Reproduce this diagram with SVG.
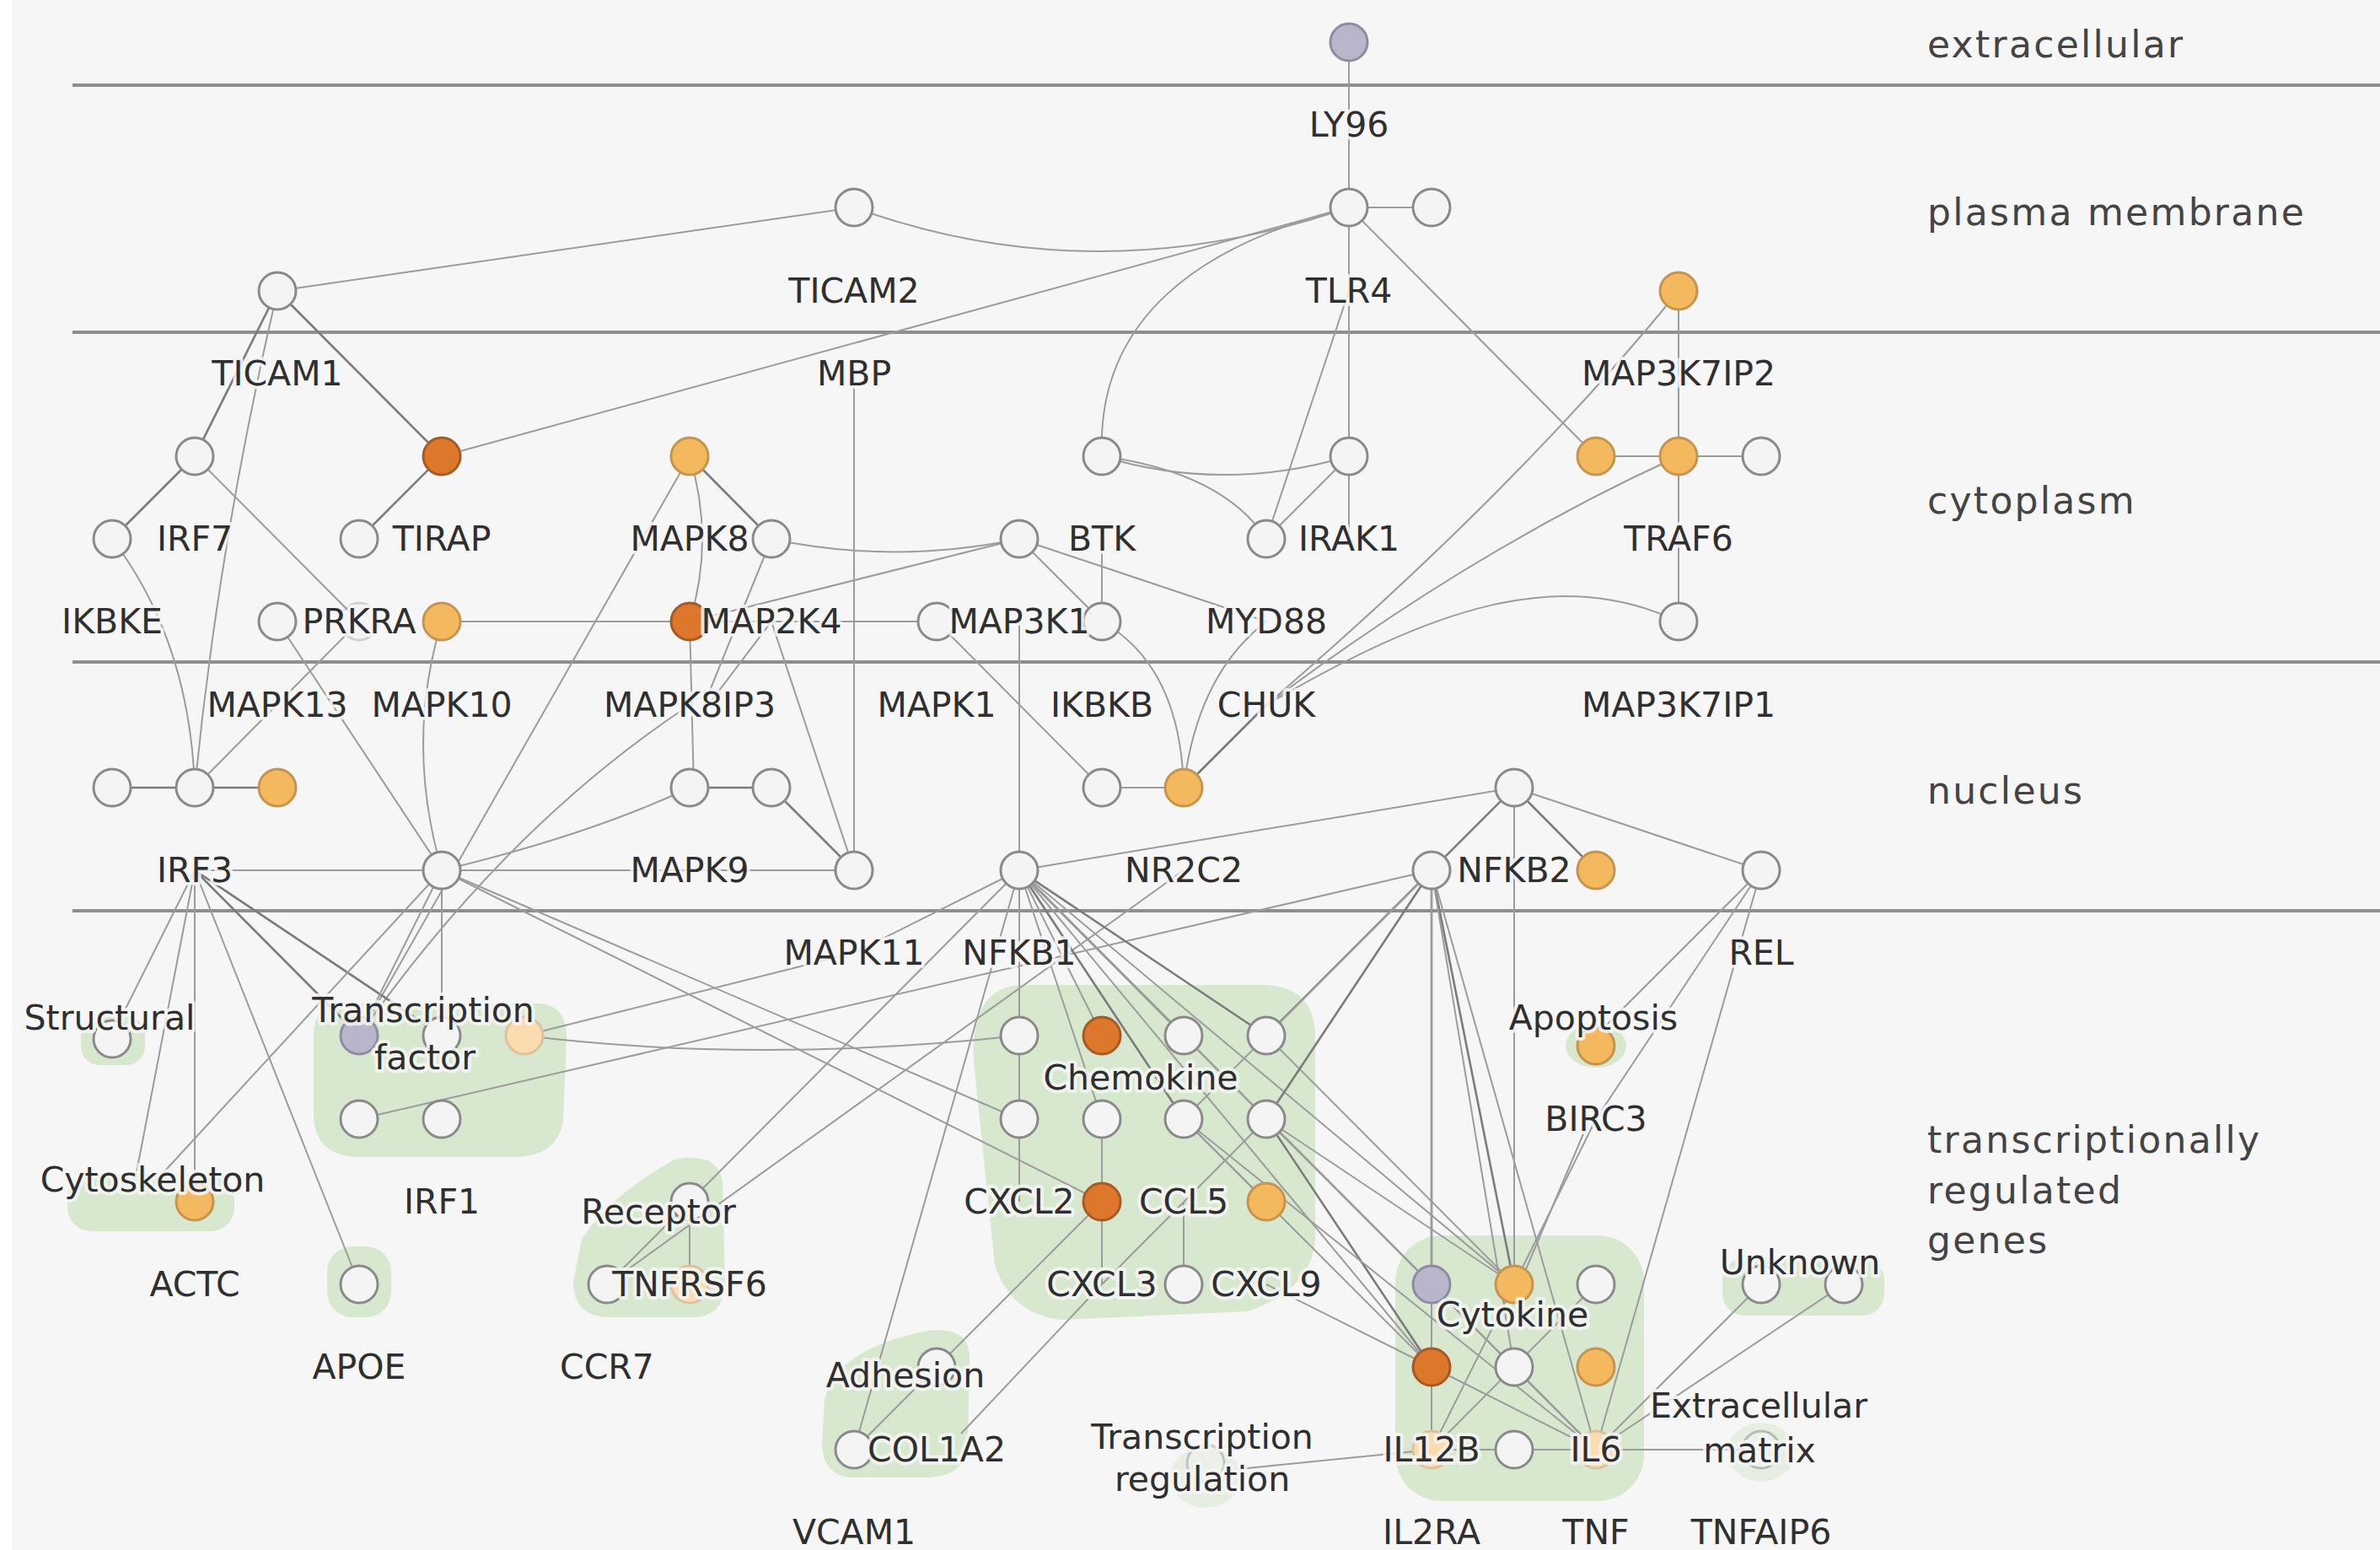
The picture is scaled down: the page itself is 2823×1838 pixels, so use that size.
<svg xmlns="http://www.w3.org/2000/svg" width="2823" height="1838" viewBox="0 0 2823 1838">
<style>
.bg{fill:#f6f6f6}
.sep{stroke:#8e8e8e;stroke-width:4}
.blob{fill:#d8e8cf}
.faint{fill:#d8e8cf;opacity:.55}
.e{stroke:#9c9c9c;stroke-width:2;fill:none}
.d{stroke:#7c7c7c;stroke-width:2.6;fill:none}
circle{stroke-width:3}
.n{fill:#f4f4f4;stroke:#8a8a8a}
.lo{fill:#f4b85f;stroke:#c5944f}
.do{fill:#dc772b;stroke:#a65a26}
.lv{fill:#b9b6cb;stroke:#8e8ba3}
.po{fill:#fadcb0;stroke:#dcc3a0}
.lbl{font-family:"DejaVu Sans","Liberation Sans",sans-serif;font-size:41px;fill:#2f2f2f;text-anchor:middle;stroke:#f6f6f6;stroke-width:8;stroke-opacity:.85;paint-order:stroke;stroke-linejoin:round}
.comp{font-family:"DejaVu Sans","Liberation Sans",sans-serif;font-size:44px;fill:#444;letter-spacing:2.3px}
</style>
<rect class="bg" x="0" y="0" width="2823" height="1838"/>
<rect x="0" y="0" width="14" height="1838" fill="#ffffff"/>

<g id="groups">
<rect class="blob" x="96" y="1205" width="76" height="58" rx="22"/>
<path class="blob" d="M400,1190 L640,1190 Q672,1192 672,1230 L668,1330 Q660,1372 610,1372 L420,1372 Q372,1368 372,1320 L372,1225 Q375,1190 400,1190 Z"/>
<rect class="blob" x="80" y="1392" width="198" height="68" rx="28"/>
<rect class="blob" x="388" y="1478" width="76" height="84" rx="30"/>
<path class="blob" d="M800,1375 Q850,1365 857,1400 L860,1520 Q860,1562 820,1562 L720,1562 Q680,1560 680,1520 L690,1470 Q720,1420 800,1375 Z"/>
<path class="blob" d="M1210,1168 L1500,1168 Q1560,1170 1560,1230 L1560,1470 Q1555,1530 1480,1555 L1260,1565 Q1200,1560 1180,1500 L1155,1260 Q1150,1172 1210,1168 Z"/>
<path class="blob" d="M1100,1578 Q1150,1572 1150,1610 L1148,1710 Q1145,1752 1100,1752 L1010,1752 Q975,1750 975,1710 L978,1660 Q990,1600 1100,1578 Z"/>
<rect class="blob" x="1655" y="1465" width="295" height="315" rx="55"/>
<ellipse class="blob" cx="1893" cy="1240" rx="36" ry="26"/>
<rect class="blob" x="2043" y="1492" width="192" height="68" rx="26"/>
<ellipse class="faint" cx="2089" cy="1722" rx="40" ry="35"/>
<ellipse class="faint" cx="1430" cy="1752" rx="42" ry="36"/>
</g>

<g id="compartments">
<line class="sep" x1="86" y1="101" x2="2823" y2="101"/>
<line class="sep" x1="86" y1="394" x2="2823" y2="394"/>
<line class="sep" x1="86" y1="785" x2="2823" y2="785"/>
<line class="sep" x1="86" y1="1080" x2="2823" y2="1080"/>
<text class="comp" x="2286" y="68">extracellular</text>
<text class="comp" x="2286" y="267">plasma membrane</text>
<text class="comp" x="2286" y="609">cytoplasm</text>
<text class="comp" x="2286" y="953">nucleus</text>
<text class="comp" x="2286" y="1367">transcriptionally</text>
<text class="comp" x="2286" y="1427">regulated</text>
<text class="comp" x="2286" y="1486">genes</text>
</g>

<g id="connectors">
<path class="e" d="M1600 50 L1600 246"/>
<path class="e" d="M1600 246 L1698 246"/>
<path class="e" d="M329 345 L1013 246"/>
<path class="e" d="M1013 246 Q1300 350 1600 246"/>
<path class="e" d="M1600 246 L524 541"/>
<path class="e" d="M1600 246 C1420 290 1300 380 1307 541"/>
<path class="e" d="M1600 246 L1600 541"/>
<path class="e" d="M1600 345 L1502 639"/>
<path class="e" d="M1600 541 L1502 639"/>
<path class="e" d="M1600 541 L1600 639"/>
<path class="e" d="M1307 541 Q1450 585 1600 541"/>
<path class="e" d="M1307 541 Q1450 560 1502 639"/>
<path class="e" d="M1600 246 L1893 541"/>
<path class="e" d="M1893 541 L2089 541"/>
<path class="e" d="M1991 345 L1991 737"/>
<path class="e" d="M1991 345 Q1800 580 1502 836"/>
<path class="e" d="M1991 541 Q1750 650 1502 836"/>
<path class="e" d="M1991 737 C1850 670 1700 720 1502 836"/>
<path class="d" d="M1502 836 L1404 934"/>
<path class="e" d="M1307 934 L1404 934"/>
<path class="e" d="M1307 737 Q1400 790 1404 934"/>
<path class="e" d="M1502 737 Q1420 800 1404 934"/>
<path class="e" d="M1111 737 L1307 934"/>
<path class="e" d="M1209 737 L1209 1032"/>
<path class="e" d="M1013 443 L1013 1032"/>
<path class="e" d="M915 737 L1013 1032"/>
<path class="d" d="M915 934 L1013 1032"/>
<path class="d" d="M818 934 L915 934"/>
<path class="e" d="M818 737 L823 934"/>
<path class="e" d="M818 541 Q848 640 818 737"/>
<path class="d" d="M818 541 L915 639"/>
<path class="e" d="M818 541 L426 1228"/>
<path class="e" d="M915 639 L835 836"/>
<path class="e" d="M915 737 L840 836"/>
<path class="e" d="M915 639 Q1060 670 1209 639"/>
<path class="e" d="M818 737 L1209 639"/>
<path class="e" d="M818 737 L1111 737"/>
<path class="e" d="M524 737 L818 737"/>
<path class="e" d="M1209 639 L1307 737"/>
<path class="e" d="M1209 639 L1502 737"/>
<path class="e" d="M1307 639 L1307 737"/>
<path class="d" d="M329 345 L231 541"/>
<path class="d" d="M329 345 L524 541"/>
<path class="e" d="M329 345 Q260 640 231 934"/>
<path class="d" d="M231 541 L133 639"/>
<path class="e" d="M231 541 L426 737"/>
<path class="d" d="M524 541 L426 639"/>
<path class="e" d="M133 639 Q225 760 231 934"/>
<path class="e" d="M426 737 L231 934"/>
<path class="e" d="M329 737 L524 1032"/>
<path class="e" d="M524 737 Q480 880 524 1032"/>
<path class="d" d="M133 934 L329 934"/>
<path class="e" d="M231 1032 L524 1032"/>
<path class="e" d="M524 1032 L1013 1032"/>
<path class="e" d="M524 1032 Q700 990 818 934"/>
<path class="e" d="M818 836 Q600 980 426 1228"/>
<path class="e" d="M231 1032 L133 1228"/>
<path class="e" d="M231 1032 L160 1400"/>
<path class="e" d="M231 1032 L231 1425"/>
<path class="e" d="M231 1032 L426 1523"/>
<path class="d" d="M231 1032 L426 1228"/>
<path class="d" d="M231 1032 L524 1228"/>
<path class="e" d="M524 1032 L426 1228"/>
<path class="e" d="M524 1032 L524 1228"/>
<path class="e" d="M524 1032 L185 1400"/>
<path class="e" d="M524 1032 L1209 1327"/>
<path class="e" d="M524 1032 L1307 1425"/>
<path class="e" d="M622 1228 L1013 1130"/>
<path class="e" d="M622 1228 Q900 1262 1209 1228"/>
<path class="e" d="M426 1327 L1698 1032"/>
<path class="e" d="M1209 1032 L818 1425"/>
<path class="e" d="M1404 1032 L720 1523"/>
<path class="e" d="M1209 1032 L1013 1130"/>
<path class="e" d="M1209 1032 L1796 934"/>
<path class="e" d="M1209 1032 L1209 1228"/>
<path class="e" d="M1209 1032 L1307 1228"/>
<path class="d" d="M1209 1032 L1404 1228"/>
<path class="d" d="M1209 1032 L1502 1228"/>
<path class="e" d="M1209 1032 L1209 1327"/>
<path class="e" d="M1209 1032 L1307 1327"/>
<path class="d" d="M1209 1032 L1404 1327"/>
<path class="e" d="M1209 1032 L1502 1327"/>
<path class="e" d="M1209 1032 L1698 1523"/>
<path class="e" d="M1209 1032 L1796 1523"/>
<path class="e" d="M1209 1032 L1698 1621"/>
<path class="e" d="M1209 1032 L1013 1719"/>
<path class="e" d="M1209 1327 L1209 1425"/>
<path class="e" d="M1307 1327 L1307 1425"/>
<path class="e" d="M1307 1425 L1307 1523"/>
<path class="e" d="M1404 1425 L1404 1523"/>
<path class="e" d="M1502 1327 L1307 1523"/>
<path class="e" d="M1404 1327 L1502 1425"/>
<path class="e" d="M1307 1425 L1111 1621"/>
<path class="e" d="M1307 1523 L1140 1700"/>
<path class="e" d="M1502 1327 L1698 1523"/>
<path class="d" d="M1502 1327 L1698 1621"/>
<path class="e" d="M1502 1327 L1796 1523"/>
<path class="e" d="M1404 1327 L1698 1621"/>
<path class="e" d="M1404 1327 L1893 1719"/>
<path class="e" d="M1502 1327 L1893 1719"/>
<path class="e" d="M1502 1228 L1796 1523"/>
<path class="e" d="M1502 1523 L1698 1621"/>
<path class="d" d="M1698 1032 L1502 1228"/>
<path class="d" d="M1698 1032 L1502 1327"/>
<path class="e" d="M1698 1032 L1404 1327"/>
<path class="d" d="M1698 1032 L1698 1523"/>
<path class="d" d="M1698 1032 L1796 1523"/>
<path class="e" d="M1698 1032 L1796 1621"/>
<path class="e" d="M1698 1032 L1893 1719"/>
<path class="e" d="M1698 1032 L1698 1719"/>
<path class="d" d="M1796 934 L1698 1032"/>
<path class="d" d="M1796 934 L1893 1032"/>
<path class="e" d="M1796 934 L2089 1032"/>
<path class="e" d="M1796 934 L1796 1523"/>
<path class="e" d="M2089 1032 L1893 1228"/>
<path class="e" d="M2089 1032 L1893 1327"/>
<path class="e" d="M1893 1327 L1796 1523"/>
<path class="e" d="M1880 1340 L1810 1505"/>
<path class="e" d="M2089 1032 L1893 1719"/>
<path class="e" d="M2089 1523 L1893 1719"/>
<path class="e" d="M2187 1523 L1893 1719"/>
<path class="e" d="M1698 1523 L1698 1719"/>
<path class="e" d="M1698 1523 L1893 1719"/>
<path class="e" d="M1796 1523 L1698 1719"/>
<path class="e" d="M1893 1523 L1698 1719"/>
<path class="e" d="M1698 1621 L1893 1719"/>
<path class="e" d="M1796 1621 L1893 1719"/>
<path class="e" d="M1698 1719 L1893 1719"/>
<path class="e" d="M1893 1719 L2089 1719"/>
<path class="e" d="M1470 1742 L1698 1719"/>
<path class="e" d="M1111 1621 L1013 1719"/>
<path class="e" d="M818 1425 L720 1523"/>
<path class="e" d="M818 1425 L818 1523"/>
</g>

<g id="nodes">
<g id="n-LY96"><circle class="lv" cx="1600" cy="50" r="22"/></g>
<g id="n-TLR4"><circle class="n" cx="1600" cy="246" r="22"/></g>
<g id="n-TLR4b"><circle class="n" cx="1698" cy="246" r="22"/></g>
<g id="n-TICAM2"><circle class="n" cx="1013" cy="246" r="22"/></g>
<g id="n-TICAM1"><circle class="n" cx="329" cy="345" r="22"/></g>
<g id="n-MAP3K7IP2"><circle class="lo" cx="1991" cy="345" r="22"/></g>
<g id="n-IRF7"><circle class="n" cx="231" cy="541" r="22"/></g>
<g id="n-TIRAPa"><circle class="do" cx="524" cy="541" r="22"/></g>
<g id="n-MAPK8"><circle class="lo" cx="818" cy="541" r="22"/></g>
<g id="n-c12r5"><circle class="n" cx="1307" cy="541" r="22"/></g>
<g id="n-c15r5"><circle class="n" cx="1600" cy="541" r="22"/></g>
<g id="n-c18r5"><circle class="lo" cx="1893" cy="541" r="22"/></g>
<g id="n-TRAF6"><circle class="lo" cx="1991" cy="541" r="22"/></g>
<g id="n-c20r5"><circle class="n" cx="2089" cy="541" r="22"/></g>
<g id="n-c0r6"><circle class="n" cx="133" cy="639" r="22"/></g>
<g id="n-c3r6"><circle class="n" cx="426" cy="639" r="22"/></g>
<g id="n-c8r6"><circle class="n" cx="915" cy="639" r="22"/></g>
<g id="n-c11r6"><circle class="n" cx="1209" cy="639" r="22"/></g>
<g id="n-c14r6"><circle class="n" cx="1502" cy="639" r="22"/></g>
<g id="n-c2r7"><circle class="n" cx="329" cy="737" r="22"/></g>
<g id="n-c3r7"><circle class="n" cx="426" cy="737" r="22" opacity=".35"/></g>
<g id="n-c4r7"><circle class="lo" cx="524" cy="737" r="22"/></g>
<g id="n-MAP2K4"><circle class="do" cx="818" cy="737" r="22"/></g>
<g id="n-c10r7"><circle class="n" cx="1111" cy="737" r="22"/></g>
<g id="n-c12r7"><circle class="n" cx="1307" cy="737" r="22"/></g>
<g id="n-c19r7"><circle class="n" cx="1991" cy="737" r="22"/></g>
<g id="n-c0r9"><circle class="n" cx="133" cy="934" r="22"/></g>
<g id="n-c1r9"><circle class="n" cx="231" cy="934" r="22"/></g>
<g id="n-c2r9"><circle class="lo" cx="329" cy="934" r="22"/></g>
<g id="n-c7r9"><circle class="n" cx="818" cy="934" r="22"/></g>
<g id="n-c8r9"><circle class="n" cx="915" cy="934" r="22"/></g>
<g id="n-c12r9"><circle class="n" cx="1307" cy="934" r="22"/></g>
<g id="n-c13r9"><circle class="lo" cx="1404" cy="934" r="22"/></g>
<g id="n-c17r9"><circle class="n" cx="1796" cy="934" r="22"/></g>
<g id="n-c4r10"><circle class="n" cx="524" cy="1032" r="22"/></g>
<g id="n-c9r10"><circle class="n" cx="1013" cy="1032" r="22"/></g>
<g id="n-c11r10"><circle class="n" cx="1209" cy="1032" r="22"/></g>
<g id="n-c16r10"><circle class="n" cx="1698" cy="1032" r="22"/></g>
<g id="n-c18r10"><circle class="lo" cx="1893" cy="1032" r="22"/></g>
<g id="n-c20r10"><circle class="n" cx="2089" cy="1032" r="22"/></g>
<g id="n-structural"><circle class="n" cx="133" cy="1232" r="22"/></g>
<g id="n-tf1"><circle class="lv" cx="426" cy="1228" r="22"/></g>
<g id="n-tf2"><circle class="n" cx="524" cy="1228" r="22"/></g>
<g id="n-tf3"><circle class="po" cx="622" cy="1228" r="22"/></g>
<g id="n-tf4"><circle class="n" cx="426" cy="1327" r="22"/></g>
<g id="n-tf5"><circle class="n" cx="524" cy="1327" r="22"/></g>
<g id="n-ACTC"><circle class="lo" cx="231" cy="1425" r="22"/></g>
<g id="n-APOE"><circle class="n" cx="426" cy="1523" r="22"/></g>
<g id="n-rec1"><circle class="n" cx="818" cy="1425" r="22"/></g>
<g id="n-rec2"><circle class="n" cx="720" cy="1523" r="22"/></g>
<g id="n-rec3"><circle class="po" cx="818" cy="1523" r="22"/></g>
<g id="n-ch1"><circle class="n" cx="1209" cy="1228" r="22"/></g>
<g id="n-ch2"><circle class="do" cx="1307" cy="1228" r="22"/></g>
<g id="n-ch3"><circle class="n" cx="1404" cy="1228" r="22"/></g>
<g id="n-ch4"><circle class="n" cx="1502" cy="1228" r="22"/></g>
<g id="n-ch5"><circle class="n" cx="1209" cy="1327" r="22"/></g>
<g id="n-ch6"><circle class="n" cx="1307" cy="1327" r="22"/></g>
<g id="n-ch7"><circle class="n" cx="1404" cy="1327" r="22"/></g>
<g id="n-ch8"><circle class="n" cx="1502" cy="1327" r="22"/></g>
<g id="n-ch9"><circle class="do" cx="1307" cy="1425" r="22"/></g>
<g id="n-ch10"><circle class="lo" cx="1502" cy="1425" r="22"/></g>
<g id="n-ch11"><circle class="n" cx="1404" cy="1523" r="22"/></g>
<g id="n-ad1"><circle class="n" cx="1111" cy="1621" r="22"/></g>
<g id="n-ad2"><circle class="n" cx="1013" cy="1719" r="22"/></g>
<g id="n-treg"><circle class="n" cx="1430" cy="1735" r="22" opacity=".4"/></g>
<g id="n-cy1"><circle class="lv" cx="1698" cy="1523" r="22"/></g>
<g id="n-cy2"><circle class="lo" cx="1796" cy="1523" r="22"/></g>
<g id="n-cy3"><circle class="n" cx="1893" cy="1523" r="22"/></g>
<g id="n-cy4"><circle class="do" cx="1698" cy="1621" r="22"/></g>
<g id="n-cy5"><circle class="n" cx="1796" cy="1621" r="22"/></g>
<g id="n-cy6"><circle class="lo" cx="1893" cy="1621" r="22"/></g>
<g id="n-cy7"><circle class="po" cx="1698" cy="1719" r="22"/></g>
<g id="n-cy8"><circle class="n" cx="1796" cy="1719" r="22"/></g>
<g id="n-cy9"><circle class="po" cx="1893" cy="1719" r="22"/></g>
<g id="n-apoptosis"><circle class="lo" cx="1893" cy="1240" r="22"/></g>
<g id="n-unk1"><circle class="n" cx="2089" cy="1523" r="22"/></g>
<g id="n-unk2"><circle class="n" cx="2187" cy="1523" r="22"/></g>
<g id="n-ecm"><circle class="n" cx="2089" cy="1719" r="22" opacity=".5"/></g>
</g>

<g id="labels">
<text class="lbl" x="1600" y="162">LY96</text>
<text class="lbl" x="1013" y="359">TICAM2</text>
<text class="lbl" x="1600" y="359">TLR4</text>
<text class="lbl" x="329" y="457">TICAM1</text>
<text class="lbl" x="1013" y="457">MBP</text>
<text class="lbl" x="1991" y="457">MAP3K7IP2</text>
<text class="lbl" x="231" y="653">IRF7</text>
<text class="lbl" x="524" y="653">TIRAP</text>
<text class="lbl" x="818" y="653">MAPK8</text>
<text class="lbl" x="1307" y="653">BTK</text>
<text class="lbl" x="1600" y="653">IRAK1</text>
<text class="lbl" x="1991" y="653">TRAF6</text>
<text class="lbl" x="133" y="751">IKBKE</text>
<text class="lbl" x="426" y="751">PRKRA</text>
<text class="lbl" x="915" y="751">MAP2K4</text>
<text class="lbl" x="1209" y="751">MAP3K1</text>
<text class="lbl" x="1502" y="751">MYD88</text>
<text class="lbl" x="329" y="850">MAPK13</text>
<text class="lbl" x="524" y="850">MAPK10</text>
<text class="lbl" x="818" y="850">MAPK8IP3</text>
<text class="lbl" x="1111" y="850">MAPK1</text>
<text class="lbl" x="1307" y="850">IKBKB</text>
<text class="lbl" x="1502" y="850">CHUK</text>
<text class="lbl" x="1991" y="850">MAP3K7IP1</text>
<text class="lbl" x="231" y="1046">IRF3</text>
<text class="lbl" x="818" y="1046">MAPK9</text>
<text class="lbl" x="1404" y="1046">NR2C2</text>
<text class="lbl" x="1796" y="1046">NFKB2</text>
<text class="lbl" x="1013" y="1144">MAPK11</text>
<text class="lbl" x="1209" y="1144">NFKB1</text>
<text class="lbl" x="2089" y="1144">REL</text>
<text class="lbl" x="130" y="1221">Structural</text>
<text class="lbl" x="502" y="1212">Transcription</text>
<text class="lbl" x="504" y="1268">factor</text>
<text class="lbl" x="1890" y="1221">Apoptosis</text>
<text class="lbl" x="1353" y="1292">Chemokine</text>
<text class="lbl" x="1893" y="1341">BIRC3</text>
<text class="lbl" x="181" y="1413">Cytoskeleton</text>
<text class="lbl" x="524" y="1439">IRF1</text>
<text class="lbl" x="781" y="1451">Receptor</text>
<text class="lbl" x="1209" y="1439">CXCL2</text>
<text class="lbl" x="1404" y="1439">CCL5</text>
<text class="lbl" x="231" y="1537">ACTC</text>
<text class="lbl" x="818" y="1537">TNFRSF6</text>
<text class="lbl" x="1307" y="1537">CXCL3</text>
<text class="lbl" x="1502" y="1537">CXCL9</text>
<text class="lbl" x="2135" y="1511">Unknown</text>
<text class="lbl" x="1794" y="1573">Cytokine</text>
<text class="lbl" x="426" y="1635">APOE</text>
<text class="lbl" x="720" y="1635">CCR7</text>
<text class="lbl" x="1074" y="1645">Adhesion</text>
<text class="lbl" x="2086" y="1681">Extracellular</text>
<text class="lbl" x="1111" y="1733">COL1A2</text>
<text class="lbl" x="1426" y="1718">Transcription</text>
<text class="lbl" x="1698" y="1733">IL12B</text>
<text class="lbl" x="1893" y="1733">IL6</text>
<text class="lbl" x="2087" y="1734">matrix</text>
<text class="lbl" x="1426" y="1768">regulation</text>
<text class="lbl" x="1013" y="1831">VCAM1</text>
<text class="lbl" x="1698" y="1831">IL2RA</text>
<text class="lbl" x="1893" y="1831">TNF</text>
<text class="lbl" x="2089" y="1831">TNFAIP6</text>
</g>
</svg>
